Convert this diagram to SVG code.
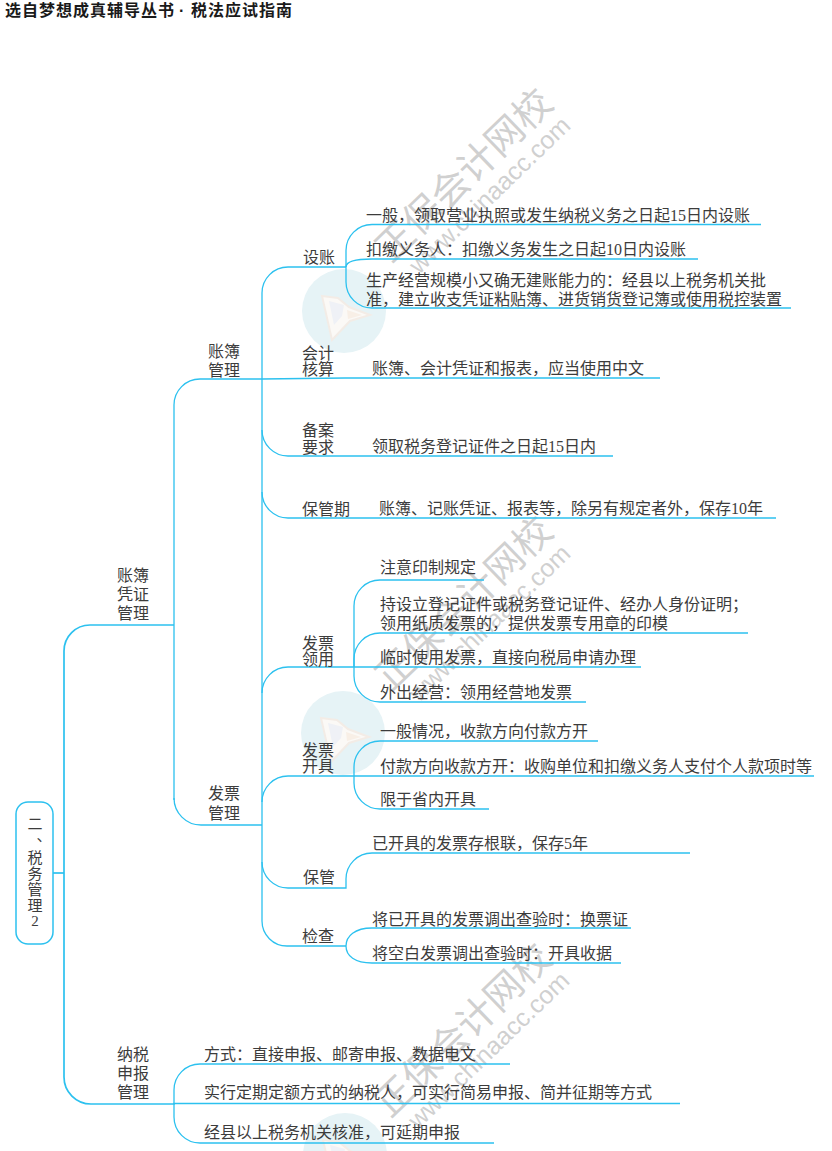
<svg xmlns="http://www.w3.org/2000/svg" width="832" height="1151" viewBox="0 0 832 1151">
<style>
text{font-family:"Liberation Serif","Noto Sans CJK SC",serif;font-size:16px;fill:#3c3c3c}
.c{text-anchor:middle}
.r{font-size:15px}
.h{font-family:"Liberation Sans","Noto Sans CJK SC",sans-serif;font-weight:700;font-size:16px;letter-spacing:1px;fill:#1a1a1a}
.w1{font-family:"Noto Sans CJK SC",sans-serif;font-size:38px;fill:#c4c4c4;fill-opacity:.8}
.w2{font-family:"Liberation Sans",sans-serif;font-size:25px;fill:#c4c4c4;fill-opacity:.8}
.lk{fill:none;stroke:#2cc1ef;stroke-width:1.3}
.m{stroke-width:1.7}
.box{fill:#fff;stroke:#2cc1ef;stroke-width:1.5}
</style>
<defs>
<g id="logo">
<circle cx="0" cy="0" r="42" fill="#e6f3f6"/>
<path d="M-22,-15 L-6,-13 L5,-4 L26,4 L6,10 L-12,29 Z" fill="#fbf9f6" stroke="#f3ece6" stroke-width="2"/>
<path d="M-15,-10 L0,-6 L-2,5 L-10,14 Z" fill="#eff1f6"/>
<path d="M3,-1 L18,4 L4,8 Z" fill="#f8efe6"/>
</g>
<g id="wm">
<text class="w1" transform="rotate(-44)">正保会计网校</text>
<text class="w2" transform="translate(28,11) rotate(-44)">www.chinaacc.com</text>
</g>
</defs>
<g id="watermarks">
<use href="#logo" x="344" y="311"/>
<use href="#logo" x="343" y="733"/>
<use href="#logo" x="345" y="1155"/>
<use href="#wm" x="391" y="264"/>
<use href="#wm" x="391" y="692"/>
<use href="#wm" x="390" y="1119"/>
</g>
<g id="connectors">
<path class="lk m" d="M53,873H64"/>
<path class="lk m" d="M64,1077V651A26,26 0 0 1 90,625H174"/>
<path class="lk m" d="M64,1077A27,27 0 0 0 91,1104H174V1103.500H680"/>
<path class="lk" d="M174,800V405A26,26 0 0 1 200,379H262L345,378H660"/>
<path class="lk" d="M174,798A27,27 0 0 0 201,825H262"/>
<path class="lk" d="M262,895V293A26,26 0 0 1 288,267H346"/>
<path class="lk" d="M346,267V250.500A26,26 0 0 1 372,224.500H761"/>
<path class="lk" d="M346,267C346,262 354,259 372,259H698"/>
<path class="lk" d="M346,267V282A26,26 0 0 0 372,308H791"/>
<path class="lk" d="M262,430A26,26 0 0 0 288,456H613"/>
<path class="lk" d="M262,492A26,26 0 0 0 288,518H776"/>
<path class="lk" d="M262,693A26,26 0 0 1 288,667H641"/>
<path class="lk" d="M354,667V606A26,26 0 0 1 380,580H484"/>
<path class="lk" d="M354,667V659A26,26 0 0 1 380,633H748"/>
<path class="lk" d="M354,667V676A26,26 0 0 0 380,702H586"/>
<path class="lk" d="M262,802A26,26 0 0 1 288,776H814"/>
<path class="lk" d="M354,776V767A26,26 0 0 1 380,741H598"/>
<path class="lk" d="M354,776V783A26,26 0 0 0 380,809H489"/>
<path class="lk" d="M262,862A26,26 0 0 0 288,888H346V879A26,26 0 0 1 372,853H690"/>
<path class="lk" d="M262,895V921A25,25 0 0 0 287,946H346"/>
<path class="lk" d="M346,946C346,936 355,928 372,928H631"/>
<path class="lk" d="M346,946C346,956 355,963 372,963H621"/>
<path class="lk" d="M174,1104V1090A26,26 0 0 1 200,1064H510"/>
<path class="lk" d="M174,1104V1117A26,26 0 0 0 200,1143H494"/>
</g>
<g id="header"><text class="h" y="16"><tspan x="5">选自梦想成真辅导丛书</tspan><tspan x="179">·</tspan><tspan x="191">税法应试指南</tspan></text></g>
<g id="root">
<rect class="box" x="16" y="802" width="37" height="142" rx="12"/>
<text class="c r"><tspan x="35" y="829">二</tspan><tspan x="44" y="841">、</tspan><tspan x="35" y="863">税</tspan><tspan x="35" y="879">务</tspan><tspan x="35" y="895">管</tspan><tspan x="35" y="911">理</tspan><tspan x="35" y="926">2</tspan></text>
</g>
<g id="n-zbpz"><text class="c"><tspan x="133" y="581">账簿</tspan><tspan x="133" y="600">凭证</tspan><tspan x="133" y="619">管理</tspan></text></g>
<g id="n-nssb"><text class="c"><tspan x="133" y="1060">纳税</tspan><tspan x="133" y="1079">申报</tspan><tspan x="133" y="1098">管理</tspan></text></g>
<g id="n-zbgl"><text class="c"><tspan x="224" y="357">账簿</tspan><tspan x="224" y="376">管理</tspan></text></g>
<g id="n-fpgl"><text class="c"><tspan x="224" y="799">发票</tspan><tspan x="224" y="819">管理</tspan></text></g>
<g id="n-sz"><text x="303" y="263">设账</text></g>
<g id="n-kjhs"><text class="c"><tspan x="318" y="359">会计</tspan><tspan x="318" y="375">核算</tspan></text></g>
<g id="n-bayq"><text class="c"><tspan x="318" y="436">备案</tspan><tspan x="318" y="453">要求</tspan></text></g>
<g id="n-bgq"><text x="302" y="515">保管期</text></g>
<g id="n-fply"><text class="c"><tspan x="318" y="649">发票</tspan><tspan x="318" y="665">领用</tspan></text></g>
<g id="n-fpkj"><text class="c"><tspan x="318" y="756">发票</tspan><tspan x="318" y="772">开具</tspan></text></g>
<g id="n-bg"><text x="303" y="883">保管</text></g>
<g id="n-jc"><text x="302" y="942">检查</text></g>
<g id="l1"><text x="366" y="221">一般，领取营业执照或发生纳税义务之日起15日内设账</text></g>
<g id="l2"><text x="366" y="255">扣缴义务人：扣缴义务发生之日起10日内设账</text></g>
<g id="l3"><text><tspan x="366" y="286">生产经营规模小又确无建账能力的：经县以上税务机关批</tspan><tspan x="366" y="305">准，建立收支凭证粘贴簿、进货销货登记簿或使用税控装置</tspan></text></g>
<g id="l4"><text x="372" y="374">账簿、会计凭证和报表，应当使用中文</text></g>
<g id="l5"><text x="372" y="452">领取税务登记证件之日起15日内</text></g>
<g id="l6"><text x="379" y="514">账簿、记账凭证、报表等，除另有规定者外，保存10年</text></g>
<g id="l7"><text x="380" y="573">注意印制规定</text></g>
<g id="l8"><text><tspan x="380" y="610">持设立登记证件或税务登记证件、经办人身份证明；</tspan><tspan x="380" y="629">领用纸质发票的，提供发票专用章的印模</tspan></text></g>
<g id="l9"><text x="380" y="663">临时使用发票，直接向税局申请办理</text></g>
<g id="l10"><text x="380" y="698">外出经营：领用经营地发票</text></g>
<g id="l11"><text x="380" y="737">一般情况，收款方向付款方开</text></g>
<g id="l12"><text x="380" y="772">付款方向收款方开：收购单位和扣缴义务人支付个人款项时等</text></g>
<g id="l13"><text x="380" y="805">限于省内开具</text></g>
<g id="l14"><text x="372" y="849">已开具的发票存根联，保存5年</text></g>
<g id="l15"><text x="372" y="925">将已开具的发票调出查验时：换票证</text></g>
<g id="l16"><text x="372" y="959">将空白发票调出查验时：开具收据</text></g>
<g id="l17"><text x="204" y="1060">方式：直接申报、邮寄申报、数据电文</text></g>
<g id="l18"><text x="204" y="1098">实行定期定额方式的纳税人，可实行简易申报、简并征期等方式</text></g>
<g id="l19"><text x="204" y="1138">经县以上税务机关核准，可延期申报</text></g>
</svg>
